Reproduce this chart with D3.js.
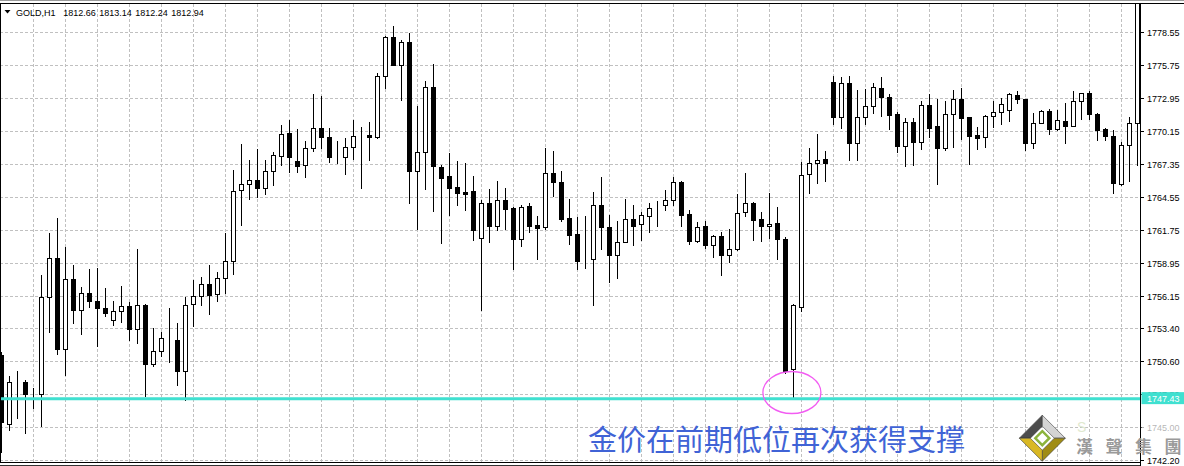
<!DOCTYPE html>
<html><head><meta charset="utf-8">
<script src="https://cdn.jsdelivr.net/npm/d3@7"></script>
<style>html,body{margin:0;padding:0;background:#fff;overflow:hidden}</style>
</head><body>
<svg id="c" width="1184" height="466"></svg>
<script>
const symbol = "GOLD,H1";
const headerValues = ["1812.66","1813.14","1812.24","1812.94"];
const priceTicks = [1778.55,1775.75,1772.95,1770.15,1767.35,1764.55,1761.75,1758.95,1756.15,1753.40,1750.60,1747.80,1745.00,1742.20];
const supportLevel = 1747.43;
const annotation = "金价在前期低位再次获得支撑";
const brand = ["漢","聲","集","團"];

const opens = [
1751.15,1745.28,1748.84,1748.84,1747.82,1747.82,1756.04,1759.35,1751.64,1757.57,
1754.94,1756.38,1755.73,1755.11,1754.06,1754.86,1755.31,1753.33,1755.37,1750.33,
1751.47,1752.53,1752.43,1749.74,1755.45,1756.15,1757.14,1756.29,1757.65,1759.09,
1765.11,1765.62,1765.96,1765.28,1766.72,1767.97,1769.94,1767.59,1767.23,1768.67,
1770.36,1769.60,1767.93,1767.91,1768.76,1769.69,1769.80,1769.66,1774.82,1778.07,
1775.75,1777.65,1766.77,1768.33,1773.84,1767.06,1766.32,1765.36,1764.96,1765.02,
1761.04,1764.01,1762.11,1764.26,1763.59,1760.96,1763.78,1762.14,1761.97,1766.55,
1765.79,1762.74,1761.41,1759.22,1759.26,1763.86,1761.97,1759.57,1760.75,1762.65,
1762.23,1762.96,1763.55,1763.84,1764.26,1765.79,1763.10,1760.84,1762.06,1760.50,
1761.21,1759.57,1760.11,1763.25,1764.01,1762.65,1762.03,1762.31,1760.96,1749.94,
1755.19,1766.47,1767.40,1767.74,1774.29,1771.35,1774.18,1769.09,1771.30,1772.23,
1773.75,1772.99,1771.55,1768.89,1770.87,1769.23,1772.31,1770.53,1768.72,1771.55,
1772.82,1771.30,1769.80,1769.60,1771.38,1771.72,1771.89,1773.16,1772.82,1769.09,
1770.79,1771.83,1770.33,1770.96,1770.58,1772.65,1773.33,1771.55,1770.33,1769.69,
1765.64,1768.93,1770.79];
const highs = [
1751.41,1749.37,1749.80,1749.03,1748.36,1757.93,1761.49,1762.74,1760.31,1758.78,
1756.94,1758.44,1758.50,1756.81,1755.73,1757.00,1755.65,1760.14,1755.48,1753.44,
1753.10,1755.14,1753.87,1756.09,1757.51,1757.76,1758.78,1758.16,1761.49,1766.83,
1769.03,1767.68,1768.61,1767.68,1768.33,1770.64,1771.07,1770.28,1769.29,1773.25,
1773.08,1770.36,1769.29,1769.52,1771.09,1770.47,1770.90,1775.02,1778.19,1779.03,
1777.82,1778.44,1772.25,1774.37,1775.81,1767.25,1768.24,1767.59,1767.40,1766.32,
1764.29,1765.22,1765.87,1765.30,1763.70,1763.86,1764.06,1762.93,1768.72,1768.44,
1766.75,1764.37,1762.87,1762.96,1764.96,1766.26,1763.02,1762.51,1764.35,1763.86,
1763.27,1764.01,1764.20,1765.14,1766.21,1765.90,1763.44,1762.42,1762.51,1761.28,
1761.60,1761.83,1764.82,1766.58,1764.14,1763.27,1764.85,1763.67,1761.11,1755.48,
1767.53,1768.72,1769.88,1768.44,1774.80,1774.69,1774.80,1773.61,1773.72,1774.20,
1774.71,1773.27,1771.75,1771.26,1771.26,1772.70,1773.25,1772.82,1772.70,1773.61,
1773.75,1771.33,1770.45,1771.52,1772.70,1772.91,1773.33,1773.53,1772.87,1771.63,
1771.89,1771.97,1771.91,1772.49,1773.55,1773.38,1773.55,1771.63,1770.36,1770.22,
1769.18,1771.30,1813.14];
const lows = [
1742.87,1744.77,1745.75,1744.48,1746.60,1745.14,1753.10,1751.18,1749.46,1753.81,
1752.88,1755.22,1751.86,1754.40,1753.67,1753.89,1752.43,1752.15,1747.62,1750.16,
1751.07,1750.56,1748.61,1747.28,1753.61,1755.39,1754.60,1755.67,1756.43,1757.96,
1762.19,1764.35,1764.57,1764.77,1765.59,1767.25,1766.68,1766.68,1766.26,1768.47,
1768.72,1767.53,1767.45,1766.49,1767.79,1765.33,1767.68,1769.57,1773.80,1775.70,
1772.79,1764.01,1761.80,1765.19,1763.38,1760.67,1763.02,1763.86,1763.44,1760.90,
1754.97,1760.75,1761.75,1761.83,1758.41,1760.41,1761.52,1759.31,1761.83,1764.65,
1762.48,1760.58,1758.44,1758.55,1755.39,1760.16,1757.28,1757.70,1760.73,1760.47,
1760.90,1761.52,1762.03,1763.44,1763.86,1762.08,1760.56,1760.73,1760.22,1759.40,
1757.93,1759.04,1760.05,1762.96,1760.90,1760.84,1761.09,1759.26,1749.57,1747.53,
1754.88,1764.91,1765.70,1765.92,1770.73,1770.36,1767.68,1767.68,1770.73,1771.63,
1771.43,1770.33,1768.38,1767.19,1767.28,1768.61,1769.60,1765.67,1768.55,1768.80,
1769.48,1767.36,1768.61,1768.80,1770.45,1770.70,1771.01,1772.49,1768.53,1768.72,
1770.79,1769.91,1770.22,1769.14,1770.58,1771.17,1771.17,1769.37,1769.35,1764.91,
1765.53,1765.92,1767.25];
const closes = [
1745.41,1748.84,1748.86,1747.79,1747.82,1756.07,1759.35,1751.64,1757.57,1754.91,
1756.38,1755.67,1755.08,1754.69,1754.86,1755.31,1753.33,1755.37,1750.33,1751.47,
1752.57,1752.53,1749.74,1755.37,1756.15,1757.14,1756.26,1757.65,1759.09,1765.08,
1765.62,1765.96,1765.28,1766.72,1768.10,1769.85,1767.96,1767.19,1768.67,1770.36,
1769.60,1767.89,1767.93,1768.78,1769.69,1769.69,1769.66,1774.77,1778.07,1775.75,
1777.65,1766.77,1768.33,1773.84,1767.14,1766.18,1765.33,1764.85,1764.82,1761.69,
1764.01,1762.08,1764.26,1763.55,1761.01,1763.67,1762.11,1761.86,1766.55,1765.79,
1762.70,1761.35,1759.14,1759.22,1763.86,1761.97,1759.57,1760.70,1762.65,1762.08,
1762.99,1763.59,1763.55,1764.26,1765.79,1763.04,1760.84,1761.97,1760.50,1761.21,
1759.57,1760.11,1763.16,1764.01,1762.62,1762.03,1762.28,1760.96,1749.80,1755.39,
1766.38,1767.40,1767.65,1767.45,1771.35,1774.18,1769.09,1771.30,1772.23,1773.84,
1772.99,1771.52,1768.89,1770.87,1769.23,1772.31,1770.41,1768.72,1771.55,1772.82,
1771.26,1769.74,1769.57,1771.38,1771.72,1772.40,1773.25,1772.82,1769.14,1770.79,
1771.80,1770.33,1771.07,1770.58,1772.65,1773.33,1771.55,1770.25,1769.69,1765.75,
1768.93,1770.79,1812.94];
const bars = d3.range(opens.length);

const axisX = 1140.5;
const x = d3.scaleLinear().domain([0, 142]).range([1.5, 1137.5]);
const y = d3.scaleLinear().domain([1742.20, 1778.55]).range([460.3, 31.7]);
const ry = v => Math.round(y(v));

const svg = d3.select("#c");
const NUMFONT = "'Liberation Sans', Arial, sans-serif";

svg.append("defs").append("clipPath").attr("id","plot")
  .append("rect").attr("x",1).attr("y",4).attr("width",axisX-1).attr("height",458);

const g = svg.append("g").attr("clip-path","url(#plot)");

// grid
g.selectAll(".hg").data(priceTicks).join("line")
  .attr("x1",0).attr("x2",axisX)
  .attr("y1",d=>ry(d)+0.5).attr("y2",d=>ry(d)+0.5)
  .attr("stroke","#c0c0c0").attr("stroke-dasharray","3,2");
g.selectAll(".vg").data(bars.filter(i=>i>0 && i%4===0)).join("line")
  .attr("x1",d=>x(d)).attr("x2",d=>x(d))
  .attr("y1",4).attr("y2",462)
  .attr("stroke","#c0c0c0").attr("stroke-dasharray","3,2");

// wicks
g.selectAll(".wick").data(bars).join("rect")
  .attr("x",i=>x(i)-0.5).attr("width",1)
  .attr("y",i=>ry(highs[i]))
  .attr("height",i=>Math.max(1, ry(lows[i]) - ry(highs[i]) + 1))
  .attr("fill","#000");

// bodies
const bull = bars.filter(i=>closes[i] >= opens[i]);
const bear = bars.filter(i=>closes[i] < opens[i]);
g.selectAll(".bull").data(bull).join("rect")
  .attr("x",i=>x(i)-2).attr("width",4)
  .attr("y",i=>ry(closes[i])+0.5)
  .attr("height",i=>Math.max(0, ry(opens[i]) - ry(closes[i])))
  .attr("fill","#fff").attr("stroke","#000").attr("stroke-width",1);
g.selectAll(".bear").data(bear).join("rect")
  .attr("x",i=>x(i)-2.5).attr("width",5)
  .attr("y",i=>ry(opens[i]))
  .attr("height",i=>Math.max(1, ry(closes[i]) - ry(opens[i]) + 1))
  .attr("fill","#000");

// support line
svg.append("line").attr("x1",0).attr("x2",axisX)
  .attr("y1",y(supportLevel)).attr("y2",y(supportLevel))
  .attr("stroke","#40e0d0").attr("stroke-width",3);

// ellipse annotation around the low
svg.append("ellipse")
  .attr("cx",x(98.8)).attr("cy",y(1747.95)).attr("rx",29).attr("ry",21)
  .attr("fill","none").attr("stroke","#f25cf2").attr("stroke-width",1.3);

// borders
svg.append("line").attr("x1",0).attr("x2",1184).attr("y1",0.5).attr("y2",0.5).attr("stroke","#9a9a9a");
svg.append("line").attr("x1",0).attr("x2",1184).attr("y1",3.5).attr("y2",3.5).attr("stroke","#000");
svg.append("line").attr("x1",0).attr("x2",axisX).attr("y1",462.5).attr("y2",462.5).attr("stroke","#000");
svg.append("line").attr("x1",0).attr("x2",axisX).attr("y1",465.5).attr("y2",465.5).attr("stroke","#333");
svg.append("line").attr("x1",0.5).attr("x2",0.5).attr("y1",3).attr("y2",463).attr("stroke","#000");

// price axis
svg.append("line").attr("x1",axisX).attr("x2",axisX).attr("y1",3).attr("y2",466).attr("stroke","#000");
svg.selectAll(".tk").data(priceTicks).join("line")
  .attr("x1",axisX).attr("x2",axisX+3.5)
  .attr("y1",d=>ry(d)+0.5).attr("y2",d=>ry(d)+0.5).attr("stroke","#000");
svg.selectAll(".tl").data(priceTicks).join("text")
  .attr("x",1147).attr("y",d=>ry(d)+3.8)
  .attr("font-family",NUMFONT).attr("font-size",9).attr("fill","#000")
  .text(d=>d.toFixed(2));

// faded area behind logo on axis
svg.append("rect").attr("x",axisX+1).attr("y",418).attr("width",44).attr("height",17)
  .attr("fill","#fff").attr("opacity",0.7);

// support label
svg.append("rect").attr("x",axisX+1).attr("y",y(supportLevel)-6.5).attr("width",44).attr("height",12)
  .attr("fill","#40e0d0");
svg.append("text").attr("x",1147).attr("y",y(supportLevel)+3.5)
  .attr("font-family",NUMFONT).attr("font-size",9).attr("fill","#fff")
  .text(supportLevel.toFixed(2));

// header
svg.append("path").attr("d","M4.5,10 L10.5,10 L7.5,13.5 Z").attr("fill","#000");
svg.append("text").attr("x",16).attr("y",15.5).attr("font-family",NUMFONT).attr("font-size",9).text(symbol);
svg.selectAll(".hv").data(headerValues).join("text")
  .attr("x",(d,i)=>63.3+36*i).attr("y",15.5)
  .attr("font-family",NUMFONT).attr("font-size",9).text(d=>d);

// annotation text
svg.append("text").attr("x",588).attr("y",450.5)
  .attr("font-family","'Noto Sans CJK SC', sans-serif").attr("font-size",29)
  .attr("fill","#4063d6").text(annotation);

// logo
const cx = 1042.3, cy = 438.2, R = 23, r = 12;
const P = (dx,dy)=>[cx+dx,cy+dy];
const faces = [
  {pts:[P(-R,0),P(0,-R),P(0,-r),P(-r,0)], fill:"#4d4d4d"},
  {pts:[P(0,-R),P(R,0),P(r,0),P(0,-r)], fill:"#d4d4d4"},
  {pts:[P(R,0),P(0,R),P(0,r),P(r,0)], fill:"#a08c14"},
  {pts:[P(0,R),P(-R,0),P(-r,0),P(0,r)], fill:"#d9b824"}
];
svg.selectAll(".face").data(faces).join("polygon")
  .attr("points",d=>d.pts.map(p=>p.join(",")).join(" "))
  .attr("fill",d=>d.fill).attr("stroke","#3a3a3a").attr("stroke-width",0.6);
svg.append("polygon").attr("points",[P(0,-7),P(7,0),P(0,7),P(-7,0)].map(p=>p.join(",")).join(" "))
  .attr("fill","#fff").attr("stroke","#8cb43c").attr("stroke-width",2.5);
svg.append("text").attr("x",1077).attr("y",432).attr("font-family","'Liberation Sans', sans-serif")
  .attr("font-size",14).attr("fill","#dfe9cf").text("S");
svg.selectAll(".brand").data(brand).join("text")
  .attr("x",(d,i)=>1076+29.5*i).attr("y",453)
  .attr("font-family","'Noto Sans CJK TC', sans-serif").attr("font-size",17).attr("font-weight","bold")
  .attr("fill","#9a9a9a").text(d=>d);
</script>
</body></html>
